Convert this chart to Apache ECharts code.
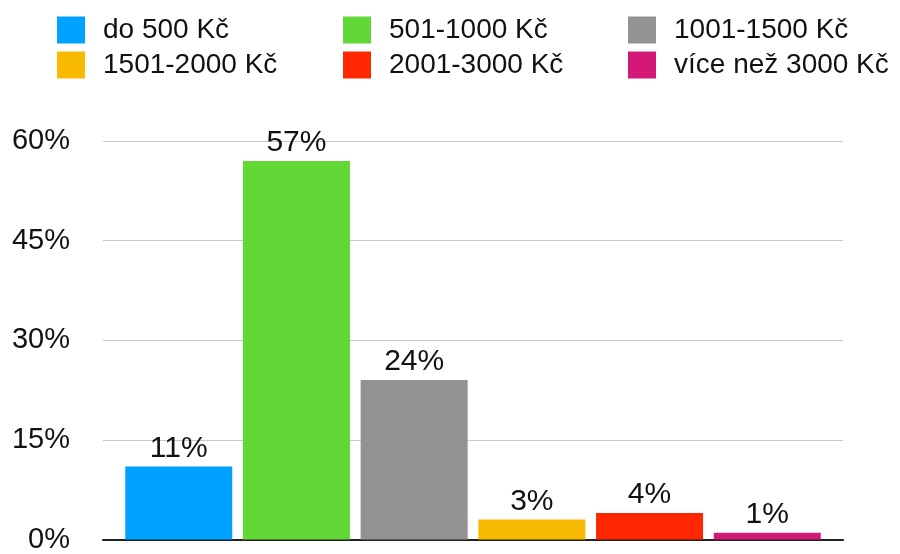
<!DOCTYPE html>
<html>
<head>
<meta charset="utf-8">
<script src="https://cdn.jsdelivr.net/npm/echarts@6/dist/echarts.min.js"></script>
<style>
  html, body { margin: 0; padding: 0; background: #fff; }
  #chart { width: 900px; height: 554px; }
</style>
</head>
<body>
<div id="chart"></div>
<script>
// Price bands (one series each) and their shares in percent
const bands = ['do 500 Kč', '501-1000 Kč', '1001-1500 Kč', '1501-2000 Kč', '2001-3000 Kč', 'více než 3000 Kč'];
const shares = [11, 57, 24, 3, 4, 1];
const bandColors = ['#00A2FF', '#61D836', '#929292', '#F8BA00', '#FF2600', '#D31876'];
const yTicks = [0, 15, 30, 45, 60];

const FONT = '"Liberation Sans", Arial, Helvetica, sans-serif';

// Legend laid out in three columns of two entries
const legendColumns = [
  [bands[0], bands[3]],
  [bands[1], bands[4]],
  [bands[2], bands[5]]
];
const legendLefts = [57, 343, 628];

const legends = legendColumns.map((names, i) => ({
  data: names,
  orient: 'vertical',
  left: legendLefts[i],
  top: 16,
  padding: 0,
  itemWidth: 28,
  itemHeight: 27,
  itemGap: 7,
  icon: 'rect',
  selectedMode: false,
  textStyle: { fontFamily: FONT, fontSize: 28, color: '#111', padding: [0, 0, 0, 13] }
}));

const series = bands.map((name, i) => ({
  name: name,
  type: 'bar',
  data: [shares[i]],
  barWidth: 107,
  barGap: '10%',
  itemStyle: { color: bandColors[i] },
  label: {
    show: true,
    position: 'top',
    distance: 3,
    formatter: '{c}%',
    fontFamily: FONT,
    fontSize: 30,
    color: '#111'
  }
}));

const chart = echarts.init(document.getElementById('chart'), null, { renderer: 'canvas' });
chart.setOption({
  animation: false,
  backgroundColor: '#fff',
  legend: legends,
  grid: { left: 103, right: 57, top: 141, bottom: 14, containLabel: false },
  xAxis: {
    type: 'category',
    data: [''],
    axisLine: { show: true, lineStyle: { color: '#222', width: 2 } },
    axisTick: { show: false },
    axisLabel: { show: false }
  },
  yAxis: {
    type: 'value',
    min: yTicks[0],
    max: yTicks[yTicks.length - 1],
    interval: yTicks[1] - yTicks[0],
    axisLine: { show: false },
    axisTick: { show: false },
    axisLabel: {
      formatter: '{value}%',
      margin: 33,
      fontFamily: FONT,
      fontSize: 29,
      color: '#111'
    },
    splitLine: { lineStyle: { color: '#c8c8c8', width: 1 } }
  },
  series: series
});
</script>
</body>
</html>
